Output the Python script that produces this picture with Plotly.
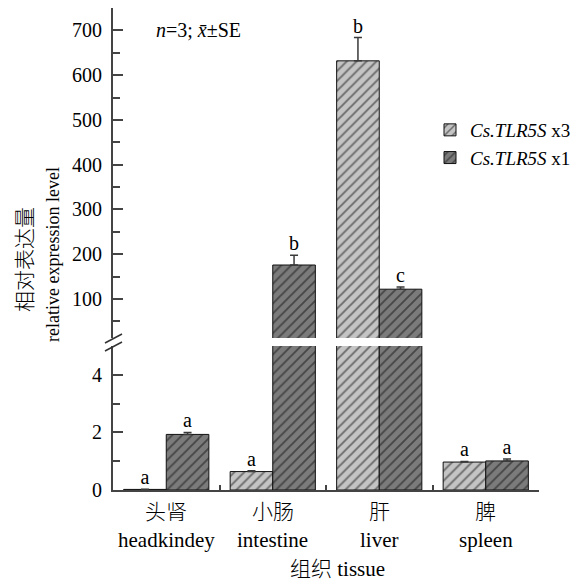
import plotly.graph_objects as go

# ---- data ----
tissues_cn = ["头肾", "小肠", "肝", "脾"]
tissues_en = ["headkindey", "intestine", "liver", "spleen"]
series_names = ["<i>Cs.TLR5S</i> x3", "<i>Cs.TLR5S</i> x1"]
x3_values = [0.02, 0.64, 632, 0.97]
x3_errors = [0.01, 0.03, 52, 0.02]
x1_values = [1.93, 176, 122, 1.01]
x1_errors = [0.07, 22, 5, 0.07]
x3_letters = ["a", "a", "b", "a"]
x1_letters = ["a", "b", "c", "a"]
lower_ticks = [0, 2, 4]
lower_minor = [1, 3]
upper_ticks = [100, 200, 300, 400, 500, 600, 700]
upper_minor = [50, 150, 250, 350, 450, 550, 650, 750]

FONT = "Liberation Serif, Noto Sans CJK SC, serif"
OFF = 8  # default page body margin
W, H = 585 - OFF, 581 - OFF
PL, PR, PT, PB = 113, 539, 8, 490  # plot area in page pixels
ML, MT = PL - OFF, PT - OFF
PW, PH = PR - PL, PB - PT
MR, MB = W - ML - PW, H - MT - PH

def px(xp):
    return (xp - PL) / PW

def py(yp):
    return (PB - yp) / PH

pos = list(range(len(tissues_en)))
colors = ["#c4c4c4", "#7b7b7b"]
series = [(x3_values, x3_errors, x3_letters), (x1_values, x1_errors, x1_letters)]

fig = go.Figure()
LOWER_MAX = 5
for xa, ya, show in [("x", "y", False), ("x2", "y2", True)]:
    for k, (vals, errs, _) in enumerate(series):
        fig.add_trace(go.Bar(
            x=pos, y=vals, name=series_names[k], xaxis=xa, yaxis=ya,
            offsetgroup=str(k), showlegend=show, legendrank=k,
            marker=dict(color=colors[k],
                        line=dict(color="#111111", width=1),
                        pattern=dict(shape="/", fgcolor="#111111", size=7, solidity=0.27)),
            error_y=dict(type="data", array=errs, arrayminus=[0] * len(errs), symmetric=False,
                         color="#3a3a3a", thickness=1.5, width=4),
        ))

# significance letters
for k, (vals, errs, letters) in enumerate(series):
    off = -0.2 if k == 0 else 0.2
    for panel, ya in [(0, "y"), (1, "y2")]:
        xs, ys, ts = [], [], []
        for i, (v, e, t) in enumerate(zip(vals, errs, letters)):
            top = v + e
            if (top < LOWER_MAX) == (panel == 0):
                xs.append(i + off); ys.append(top); ts.append(t)
        if xs:
            fig.add_trace(go.Scatter(
                x=xs, y=ys, text=ts, mode="text", textposition="top center",
                textfont=dict(family=FONT, size=20, color="black"),
                xaxis="x" if panel == 0 else "x2", yaxis=ya,
                showlegend=False, cliponaxis=False, hoverinfo="skip"))

lower_top = py(346)
upper_bot = py(338)
axis_common = dict(showgrid=False, zeroline=False, showline=True, linecolor="#444444",
                   linewidth=2, ticks="inside", tickcolor="#444444", tickwidth=1.5,
                   tickfont=dict(family=FONT, size=20, color="black"))

fig.update_layout(
    width=W, height=H,
    margin=dict(l=ML, r=MR, t=MT, b=MB),
    paper_bgcolor="white", plot_bgcolor="white",
    barmode="group", bargap=0.2, bargroupgap=0,
    font=dict(family=FONT, color="black"),
    xaxis=dict(domain=[0, 1], range=[-0.5, 3.5], anchor="y",
               tickvals=[-0.5, 0.5, 1.5, 2.5, 3.5], ticklen=5,
               showticklabels=False, **axis_common),
    xaxis2=dict(matches="x", anchor="y2", visible=False, range=[-0.5, 3.5]),
    yaxis=dict(domain=[0, lower_top], range=[0, LOWER_MAX], anchor="x",
               tickvals=lower_ticks, ticklen=10, ticklabelstandoff=5,
               minor=dict(tickvals=lower_minor, ticklen=7, ticks="inside",
                          tickcolor="#444444", tickwidth=1.5),
               **axis_common),
    yaxis2=dict(domain=[upper_bot, 1], range=[13, 750], anchor="x2",
                tickvals=upper_ticks, ticklen=10, ticklabelstandoff=5,
                minor=dict(tickvals=upper_minor, ticklen=7, ticks="inside",
                           tickcolor="#444444", tickwidth=1.5),
                **axis_common),
    legend=dict(x=px(430), y=py(111), xanchor="left", yanchor="top",
                font=dict(family=FONT, size=19, color="black"),
                bgcolor="rgba(0,0,0,0)", traceorder="normal", itemwidth=30),
    showlegend=True,
)

ann = []
ann.append(dict(text="<i>n</i>=3; <i>x\u0304</i>±SE", xref="paper", yref="paper",
                x=px(154), y=py(30), xanchor="left", yanchor="middle", showarrow=False,
                font=dict(family=FONT, size=20)))
ann.append(dict(text="相对表达量", xref="paper", yref="paper", x=px(25), y=py(260),
                textangle=-90, showarrow=False, xanchor="center", yanchor="middle",
                font=dict(family=FONT, size=21, weight=300)))
ann.append(dict(text="relative expression level", xref="paper", yref="paper", x=px(53), y=py(255),
                textangle=-90, showarrow=False, xanchor="center", yanchor="middle",
                font=dict(family=FONT, size=18)))
for i in pos:
    ann.append(dict(text=tissues_cn[i], xref="x", yref="paper", x=i, y=py(512),
                    showarrow=False, yanchor="middle", font=dict(family=FONT, size=21, weight=300)))
    ann.append(dict(text=tissues_en[i], xref="x", yref="paper", x=i, y=py(540),
                    showarrow=False, yanchor="middle", font=dict(family=FONT, size=21)))
ann.append(dict(text="<span style='font-weight:300'>组织</span> tissue", xref="paper", yref="paper",
                x=px(337), y=py(569), showarrow=False, yanchor="middle",
                font=dict(family=FONT, size=21)))
fig.update_layout(annotations=ann)

# axis break marks
for (x0, y0, x1, y1) in [(105, 343, 122, 334), (105, 351, 122, 342)]:
    fig.add_shape(type="line", xref="paper", yref="paper",
                  x0=px(x0), y0=py(y0), x1=px(x1), y1=py(y1),
                  line=dict(color="#333333", width=1.5))

fig.write_html("out.html")
